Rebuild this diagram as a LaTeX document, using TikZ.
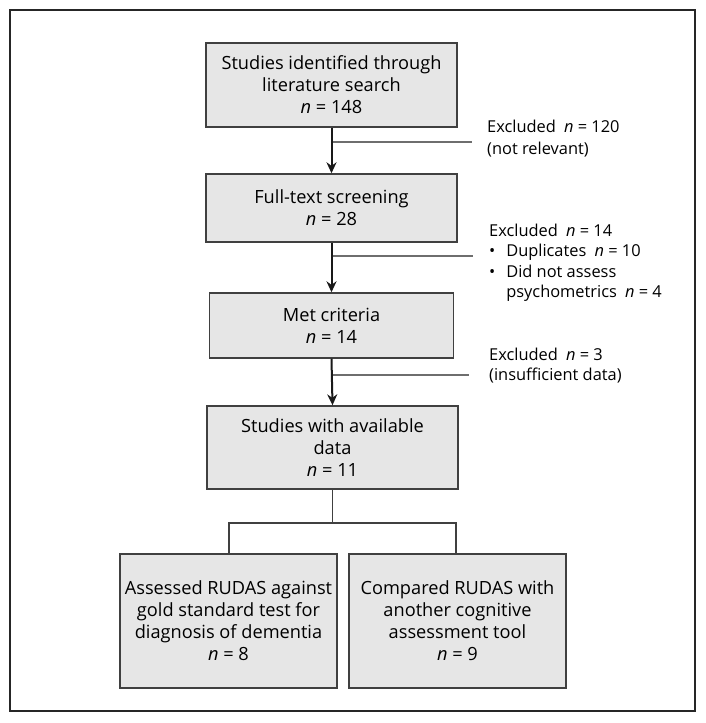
\documentclass[tikz,border=0pt]{standalone}
\usepackage{fontspec}
\setmainfont{Open Sans}
\usetikzlibrary{arrows.meta}
\definecolor{boxfill}{HTML}{E6E6E6}
\definecolor{boxline}{HTML}{404040}
\definecolor{exline}{HTML}{6E6E6E}
\tikzset{
  box/.style={draw=boxline, line width=1.4pt, fill=boxfill, align=center, inner sep=1pt,
     font=\fontsize{18.2}{22}\selectfont},
  flow/.style={line width=2pt, draw=black!90, -{Stealth[length=11pt,width=10pt]}},
  exl/.style={line width=1.2pt, draw=exline},
  split/.style={line width=1.3pt, draw=boxline},
  extext/.style={anchor=north west, align=left, inner sep=0pt, font=\fontsize{16.4}{20.3}\selectfont}
}
\newcommand{\nn}{\textit{n}}
\begin{document}
\begin{tikzpicture}[x=1pt,y=-1pt]
\useasboundingbox (0,0) rectangle (706,723);
\draw[line width=1.5pt, draw=black!85] (10,10) rectangle (695,711);

\node[box, minimum width=251pt, minimum height=84pt] (b1) at (331.5,85) {Studies identified through\\literature search\\\nn{} = 148};
\node[box, minimum width=251pt, minimum height=68pt] (b2) at (331.5,208) {Full-text screening\\\nn{} = 28};
\node[box, minimum width=244pt, minimum height=65pt] (b3) at (331.5,325.5) {Met criteria\\\nn{} = 14};
\node[box, minimum width=251pt, minimum height=83pt] (b4) at (332.5,447.5) {Studies with available\\data\\\nn{} = 11};
\node[box, minimum width=217pt, minimum height=134pt] (b5) at (228.5,621) {Assessed RUDAS against\\gold standard test for\\diagnosis of dementia\\\nn{} = 8};
\node[box, minimum width=217pt, minimum height=134pt] (b6) at (457.5,621) {Compared RUDAS with\\another cognitive\\assessment tool\\\nn{} = 9};

\coordinate (e1) at (472,142);
\coordinate (e2) at (473,256);
\coordinate (e3) at (469,375);
\draw[exl] (b1.south |- e1) -- (e1);
\draw[exl] (b2.south |- e2) -- (e2);
\draw[exl] (b3.south |- e3) -- (e3);
\draw[flow] (b1.south) -- (b2.north);
\draw[flow] (b2.south) -- (b3.north);
\draw[flow] (b3.south) -- (b4.north);

\node[extext] (x1) at (487,120) {Excluded\enspace\nn{} = 120\\[1.5pt](not relevant)};
\node[extext] (x2) at (489,224) {Excluded\enspace\nn{} = 14\\
\textbullet\enspace\,Duplicates\enspace\nn{} = 10\\
\textbullet\enspace\,Did not assess\\
\phantom{\textbullet\enspace\,}psychometrics\enspace\nn{} = 4};
\node[extext] (x3) at (489,348) {Excluded\enspace\nn{} = 3\\(insufficient data)};

\coordinate (sp) at (331,523);
\draw[split] (b4.south) -- (b4.south |- sp);
\draw[split] (b5.north -| 229,0) -- (229,523) -- (456,523) -- (b6.north -| 456,0);
\end{tikzpicture}
\end{document}
